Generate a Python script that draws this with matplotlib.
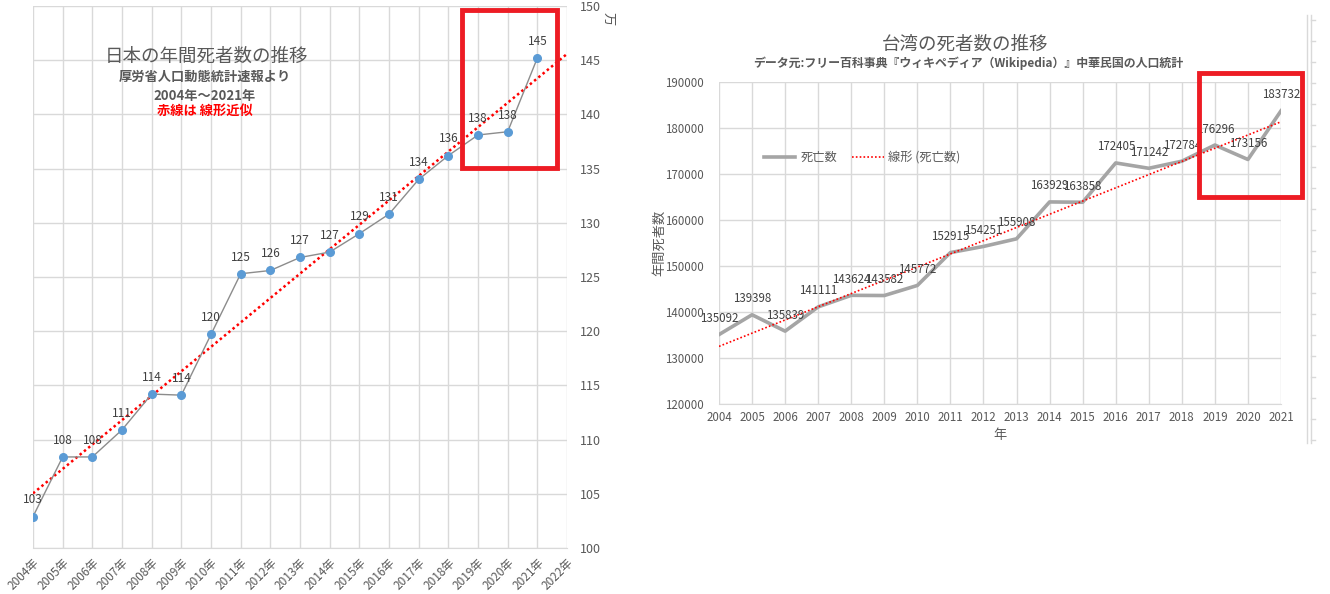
import numpy as np
import matplotlib
matplotlib.use("Agg")
import matplotlib.pyplot as plt
from matplotlib.patches import Rectangle
from matplotlib.lines import Line2D

plt.rcParams['font.family'] = ['Noto Sans CJK JP', 'DejaVu Sans']

# ----------------------------------------------------------------------
# データ
# ----------------------------------------------------------------------
jp_years = [2004, 2005, 2006, 2007, 2008, 2009, 2010, 2011, 2012,
            2013, 2014, 2015, 2016, 2017, 2018, 2019, 2020, 2021]
jp_deaths = [102.9, 108.4, 108.4, 110.9, 114.2, 114.1, 119.7, 125.3, 125.6,
             126.8, 127.3, 129.0, 130.8, 134.0, 136.2, 138.1, 138.4, 145.2]  # 万人
jp_axis_years = list(range(2004, 2023))
jp_xticklabels = [f"{y}年" for y in jp_axis_years]
jp_yticks = [100, 105, 110, 115, 120, 125, 130, 135, 140, 145, 150]

tw_years = [2004, 2005, 2006, 2007, 2008, 2009, 2010, 2011, 2012,
            2013, 2014, 2015, 2016, 2017, 2018, 2019, 2020, 2021]
tw_deaths = [135092, 139398, 135839, 141111, 143624, 143582, 145772, 152915, 154251,
             155908, 163929, 163858, 172405, 171242, 172784, 176296, 173156, 183732]
tw_yticks = [120000, 130000, 140000, 150000, 160000, 170000, 180000, 190000]

GRID = '#d9d9d9'
TXT = '#595959'
BOX = '#ed1c24'

W, H = 1330, 594
fig = plt.figure(figsize=(W / 100, H / 100), dpi=100)


def px_axes(x0, y0, x1, y1):
    return fig.add_axes([x0 / W, 1 - y1 / H, (x1 - x0) / W, (y1 - y0) / H])


def px_text(x, y, s, **kw):
    return fig.text(x / W, 1 - y / H, s, ha='center', va='center', **kw)


# ======================================================================
# 左: 日本
# ======================================================================
ax1 = px_axes(33, 6, 567, 548)
ax1.set_xlim(2004, 2022)
ax1.set_ylim(100, 150)
ax1.set_xticks(jp_axis_years)
ax1.set_xticklabels(jp_xticklabels, rotation=45, ha='right', rotation_mode='anchor',
                    fontsize=8.5, color=TXT)
ax1.set_yticks(jp_yticks)
ax1.yaxis.tick_right()
ax1.tick_params(axis='y', length=0, pad=9, labelsize=9, labelcolor=TXT)
ax1.tick_params(axis='x', length=0, pad=6)
ax1.grid(True, color=GRID, linewidth=1)
ax1.set_axisbelow(True)
for s in ['top', 'left', 'right']:
    ax1.spines[s].set_visible(False)
ax1.spines['bottom'].set_color(GRID)

# 線形近似 (2022まで前方補外)
coef = np.polyfit(jp_years, jp_deaths, 1)
ax1.plot([2004, 2022], np.polyval(coef, [2004, 2022]), color='red', linestyle=(0, (1, 1.2)),
         linewidth=1.8, zorder=3)
ax1.plot(jp_years, jp_deaths, color='#8c8c8c', linewidth=1, marker='o', markersize=5.5,
         markerfacecolor='#5b9bd5', markeredgecolor='#5b9bd5', zorder=4)
for x, v in zip(jp_years, jp_deaths):
    ax1.annotate(f"{round(v)}", (x, v), xytext=(0, 12), textcoords='offset points',
                 ha='center', va='center', fontsize=8.5, color='#404040', zorder=5)

px_text(207, 57, '日本の年間死者数の推移', fontsize=13.3, color=TXT)
px_text(205, 77, '厚労省人口動態統計速報より', fontsize=9.5, color=TXT, fontweight='bold')
px_text(205, 96, '2004年～2021年', fontsize=9.5, color=TXT, fontweight='bold')
px_text(205, 111, '赤線は 線形近似', fontsize=9.5, color='red', fontweight='bold')
px_text(608, 19, '万', fontsize=9.5, color=TXT, rotation=270)

ax1.add_patch(Rectangle((2018.46, 135.05), 3.2, 14.55, fill=False, edgecolor=BOX,
                        linewidth=3.5, clip_on=False, zorder=6))

# ======================================================================
# 右: 台湾
# ======================================================================
ax2 = px_axes(719, 82, 1281, 404)
ax2.set_xlim(2004, 2021)
ax2.set_ylim(120000, 190000)
ax2.set_xticks(tw_years)
ax2.set_xticklabels([str(y) for y in tw_years], fontsize=8.3, color=TXT)
ax2.set_yticks(tw_yticks)
ax2.set_yticklabels([str(v) for v in tw_yticks], fontsize=8.3, color=TXT)
ax2.tick_params(length=0)
ax2.tick_params(axis='y', pad=11)
ax2.tick_params(axis='x', pad=5)
ax2.grid(True, color=GRID, linewidth=1)
ax2.set_axisbelow(True)
for s in ax2.spines.values():
    s.set_visible(False)
ax2.spines['bottom'].set_visible(True)
ax2.spines['bottom'].set_color(GRID)

coef2 = np.polyfit(tw_years, tw_deaths, 1)
tw_line, = ax2.plot(tw_years, tw_deaths, color='#a5a5a5', linewidth=2.6, zorder=3,
                    label='死亡数')
tw_trend, = ax2.plot([2004, 2021], np.polyval(coef2, [2004, 2021]), color='red',
                     linestyle=(0, (1, 1.3)), linewidth=1.2, zorder=4, label='線形 (死亡数)')
for x, v in zip(tw_years, tw_deaths):
    ax2.annotate(f"{v}", (x, v), xytext=(0, 11.5), textcoords='offset points',
                 ha='center', va='center', fontsize=8.3, color='#404040', zorder=5,
                 annotation_clip=False)

ax2.legend(handles=[tw_line, tw_trend], loc='center left', bbox_to_anchor=(0.06, 0.765),
           frameon=False, fontsize=8.8, labelcolor=TXT, handlelength=2.6, columnspacing=1.2,
           ncol=2, handletextpad=0.4)

ax2.set_ylabel('年間死者数', fontsize=9.5, color=TXT, labelpad=-1)
ax2.set_xlabel('年', fontsize=9.5, color=TXT, labelpad=4)

px_text(965, 45, '台湾の死者数の推移', fontsize=13.3, color=TXT)
px_text(968, 63, 'データ元:フリー百科事典『ウィキペディア（Wikipedia）』中華民国の人口統計',
        fontsize=8.6, color=TXT, fontweight='bold')

ax2.add_patch(Rectangle((2018.52, 165000), 3.11, 26960, fill=False, edgecolor=BOX,
                        linewidth=3.5, clip_on=False, zorder=6))

# 右端の薄い枠線 (シートの名残)
for xp in (1307, 1311):
    fig.add_artist(Line2D([xp / W, xp / W], [1 - 15 / H, 1 - 443 / H], color=GRID,
                          linewidth=1, transform=fig.transFigure))
for yp in np.arange(20, 443, 21):
    fig.add_artist(Line2D([1311 / W, 1315 / W], [1 - yp / H, 1 - yp / H], color=GRID,
                          linewidth=1, transform=fig.transFigure))

fig.savefig('out.png', dpi=100)
